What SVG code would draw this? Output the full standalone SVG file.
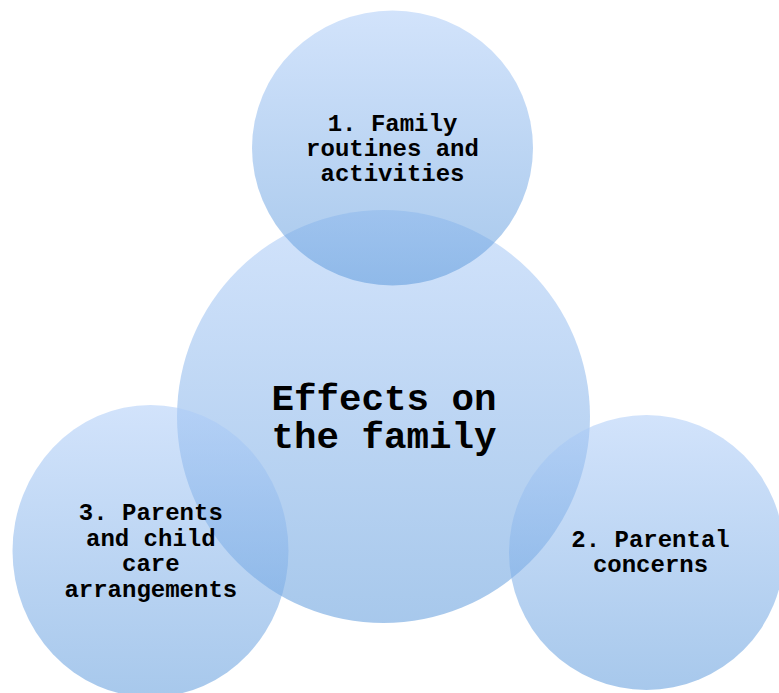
<svg xmlns="http://www.w3.org/2000/svg" width="779" height="693" viewBox="0 0 779 693">
  <defs>
    <linearGradient id="bubble" x1="0" y1="0" x2="0" y2="1">
      <stop offset="0" stop-color="#adccf8"/>
      <stop offset="1" stop-color="#5f9bdc"/>
    </linearGradient>
  </defs>
  <style>
    .bubble { fill: url(#bubble); fill-opacity: 0.55; stroke: none; }
    .label { font-family: "Liberation Mono", "Courier New", monospace; font-weight: bold; fill: #000000; text-anchor: middle; }
    .small { font-size: 24px; }
    .big { font-size: 37.5px; }
  </style>
  <rect width="779" height="693" fill="#ffffff"/>
  <g id="connectors"></g>
  <g id="node-center">
    <circle class="bubble" cx="383.5" cy="416.5" r="206.5"/>
    <text class="label big" x="384" y="410">Effects on</text>
    <text class="label big" x="384" y="448.3">the family</text>
  </g>
  <g id="node-1">
    <ellipse class="bubble" cx="392.5" cy="148" rx="140.5" ry="137.5"/>
    <text class="label small" x="392.5" y="130.5">1. Family</text>
    <text class="label small" x="392.5" y="155.5">routines and</text>
    <text class="label small" x="392.5" y="180.5">activities</text>
  </g>
  <g id="node-3">
    <ellipse class="bubble" cx="150.5" cy="551" rx="138" ry="146"/>
    <text class="label small" x="150.8" y="520">3. Parents</text>
    <text class="label small" x="150.8" y="545.7">and child</text>
    <text class="label small" x="150.8" y="571.3">care</text>
    <text class="label small" x="150.8" y="597">arrangements</text>
  </g>
  <g id="node-2">
    <circle class="bubble" cx="646.5" cy="552.5" r="137.5"/>
    <text class="label small" x="650.5" y="547.2">2. Parental</text>
    <text class="label small" x="650.5" y="572.2">concerns</text>
  </g>
</svg>
